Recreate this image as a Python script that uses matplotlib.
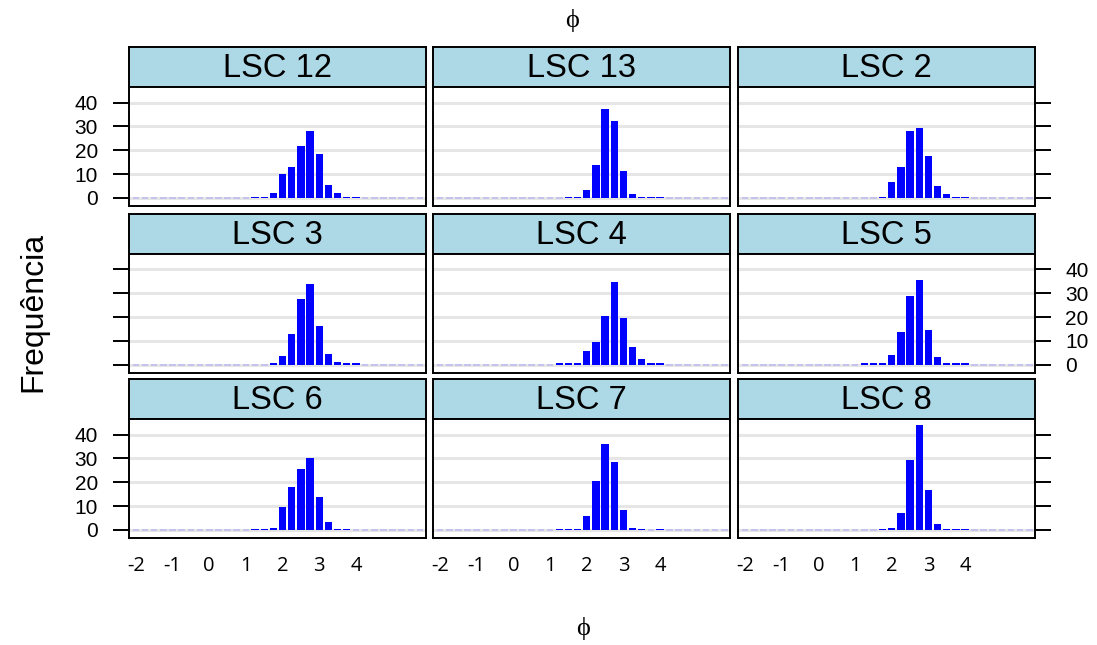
import numpy as np
import matplotlib
matplotlib.use("Agg")
import matplotlib.pyplot as plt

# ---------------- data ----------------
panel_names = ["LSC 12", "LSC 13", "LSC 2",
               "LSC 3", "LSC 4", "LSC 5",
               "LSC 6", "LSC 7", "LSC 8"]
# bin centres (width 0.25) holding non-zero counts
bin_centers = [1.25, 1.5, 1.75, 2.0, 2.25, 2.5, 2.75, 3.0, 3.25, 3.5, 3.75, 4.0]
lsc12 = [0.5, 0.5, 1.9, 10.1, 13.1, 21.7, 27.9, 18.3, 5.4, 1.9, 0.5, 0.5]
lsc13 = [0.0, 0.5, 0.5, 3.3, 13.9, 37.5, 32.2, 11.1, 1.5, 0.5, 0.5, 0.5]
lsc2 = [0.0, 0.0, 0.5, 6.8, 13.1, 28.1, 29.4, 17.4, 5.0, 1.5, 0.5, 0.5]
lsc3 = [0.0, 0.0, 0.5, 3.6, 12.8, 27.8, 34.1, 16.3, 4.6, 1.3, 0.6, 0.5]
lsc4 = [0.5, 0.5, 0.9, 5.6, 9.5, 20.6, 34.7, 19.6, 7.6, 2.2, 0.6, 0.5]
lsc5 = [0.5, 0.5, 0.6, 4.2, 13.9, 28.9, 35.6, 14.5, 3.2, 0.6, 0.5, 0.5]
lsc6 = [0.5, 0.5, 0.8, 9.4, 18.0, 25.5, 30.1, 13.8, 3.1, 0.5, 0.5, 0.0]
lsc7 = [0.5, 0.5, 0.5, 5.9, 20.4, 36.1, 28.7, 8.3, 0.7, 0.5, 0.0, 0.5]
lsc8 = [0.0, 0.0, 0.5, 0.7, 6.9, 29.3, 44.2, 16.6, 2.5, 0.5, 0.5, 0.5]
panel_counts = [lsc12, lsc13, lsc2, lsc3, lsc4, lsc5, lsc6, lsc7, lsc8]

x_ticks = [-2, -1, 0, 1, 2, 3, 4]
x_tick_labels = ["-2", "-1", "0", "1", "2", "3", "4"]
y_ticks = [0, 10, 20, 30, 40]
y_tick_labels = ["0", "10", "20", "30", "40"]
x_label = "\u03d5"
y_label = "Frequência"

# ---------------- layout ----------------
W, H = 1097, 645
fig = plt.figure(figsize=(W / 100, H / 100), dpi=100)
fig.patch.set_facecolor("white")

col_left = [128.5, 432.7, 737.7]
col_w = 297.5
row_top = [47.0, 213.8, 379.0]
strip_h = 40.0
panel_h = 118.7

xlim = (-2.2, 5.91)
ylim = (-3.3, 46.6)
bin_w = 0.25
bar_w = 0.2
all_centers = np.arange(-2.5, 6.26, bin_w)

frame_lw = 1.4
for idx, name in enumerate(panel_names):
    r, c = divmod(idx, 3)
    left = col_left[c] / W
    width = col_w / W
    # strip
    s_bottom = 1 - (row_top[r] + strip_h) / H
    sax = fig.add_axes([left, s_bottom, width, strip_h / H])
    sax.set_facecolor("#add8e6")
    sax.set_xticks([]); sax.set_yticks([])
    for sp in sax.spines.values():
        sp.set_linewidth(frame_lw)
    sax.text(0.5, 0.47, name, ha="center", va="center", fontsize=23.5,
             family="Liberation Sans", transform=sax.transAxes)
    # panel
    p_bottom = 1 - (row_top[r] + strip_h + panel_h) / H
    ax = fig.add_axes([left, p_bottom, width, panel_h / H])
    ax.set_xlim(*xlim)
    ax.set_ylim(*ylim)
    for yv in y_ticks:
        ax.axhline(yv, color="#e6e6e6", lw=2.2, zorder=0)
    counts = panel_counts[idx]
    # zero-height bins drawn as faint segments
    nz = {round(bc, 3): v for bc, v in zip(bin_centers, counts)}
    for ctr in all_centers:
        v = nz.get(round(float(ctr), 3), 0.0)
        if v == 0:
            ax.hlines(0, ctr - bar_w / 2 + 0.01, ctr + bar_w / 2 - 0.01,
                      color="#bcbcf0", lw=1.2, zorder=1)
    ax.bar(bin_centers, counts, width=bar_w, color="#0000ff",
           edgecolor="none", zorder=2)
    for sp in ax.spines.values():
        sp.set_linewidth(frame_lw)
    # x axis
    if r == 2:
        ax.set_xticks(x_ticks)
        ax.set_xticklabels(x_tick_labels, family="Open Sans", fontsize=14.5)
        ax.tick_params(axis="x", length=0, pad=13)
    else:
        ax.set_xticks([])
    # y axis
    ax.set_yticks(y_ticks)
    if c == 0:
        ax.yaxis.set_ticks_position("left")
        ax.tick_params(axis="y", length=11.5, width=frame_lw, pad=10.5,
                       labelleft=(r != 1), labelsize=15)
    elif c == 2:
        ax.yaxis.set_ticks_position("right")
        ax.tick_params(axis="y", length=11.5, width=frame_lw, pad=10,
                       labelright=(r == 1), labelsize=15)
    else:
        ax.set_yticks([])
    ax.set_yticklabels(y_tick_labels if c != 1 else [], family="Liberation Sans")

fig.text(572 / W, 1 - 20 / H, x_label, ha="center", va="center",
         fontsize=19, family=["Liberation Serif", "DejaVu Serif"])
fig.text(583 / W, 1 - 628 / H, x_label, ha="center", va="center",
         fontsize=19, family=["Liberation Serif", "DejaVu Serif"])
fig.text(33 / W, 1 - 312 / H, y_label, ha="center", va="center",
         rotation=90, fontsize=23, family="Liberation Sans")

fig.savefig("out.png", dpi=100, facecolor="white")
